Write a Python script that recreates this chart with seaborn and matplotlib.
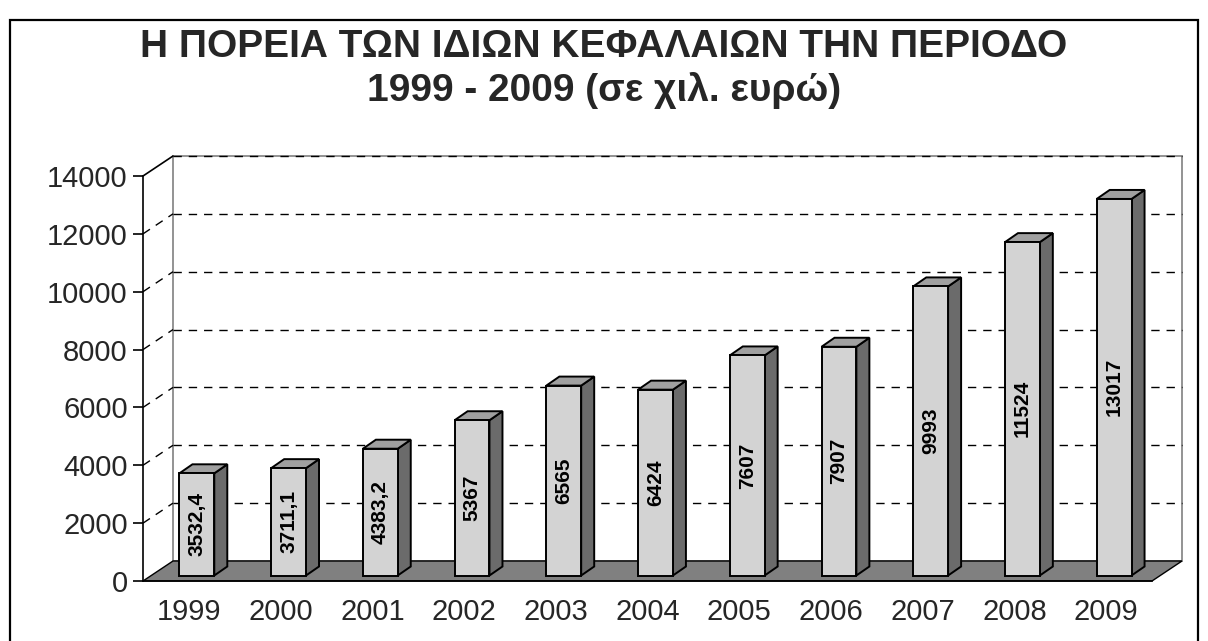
import matplotlib
matplotlib.use("Agg")
import matplotlib.pyplot as plt
import matplotlib.transforms as mtransforms
from matplotlib.patches import Polygon, Rectangle
from matplotlib.lines import Line2D
import seaborn as sns
import pandas as pd

# ---------------- data ----------------
years = ["1999", "2000", "2001", "2002", "2003", "2004", "2005", "2006", "2007", "2008", "2009"]
values = [3532.4, 3711.1, 4383.2, 5367, 6565, 6424, 7607, 7907, 9993, 11524, 13017]
value_labels = ["3532,4", "3711,1", "4383,2", "5367", "6565", "6424", "7607", "7907", "9993", "11524", "13017"]
y_ticks = [0, 2000, 4000, 6000, 8000, 10000, 12000, 14000]
title = "Η ΠΟΡΕΙΑ ΤΩΝ ΙΔΙΩΝ ΚΕΦΑΛΑΙΩΝ ΤΗΝ ΠΕΡΙΟΔΟ\n1999 - 2009 (σε χιλ. ευρώ)"

df = pd.DataFrame({"year": years, "value": values})

# ---------------- style ----------------
sns.set_style("white")
plt.rcParams["font.family"] = ["Liberation Sans", "DejaVu Sans"]

W, H = 1208, 641
DPI = 100
fig = plt.figure(figsize=(W / DPI, H / DPI), dpi=DPI)
fig.patch.set_facecolor("white")

# front plane of the pseudo-3D plot (pixels)
left_px, right_px, bottom_px, top_px = 143, 1152, 581, 176
ax = fig.add_axes([left_px / W, (H - bottom_px) / H,
                   (right_px - left_px) / W, (bottom_px - top_px) / H])
ax.set_facecolor("none")

# depth offsets in pixels
WALL_DX, WALL_DY = 30, 20        # back wall offset
BAR_FX, BAR_FY = 8, 5.5          # bar front-face offset
BAR_DX, BAR_DY = 13, 9           # bar depth

sns.barplot(data=df, x="year", y="value", color="#D3D3D3", saturation=1,
            width=0.38, edgecolor="black", linewidth=1.4, ax=ax, zorder=3)

ax.set_xlim(-0.5, len(years) - 0.5)
ax.set_ylim(0, 14000)
ax.set_xlabel("")
ax.set_ylabel("")

ident = mtransforms.IdentityTransform()

def disp(x, y):
    return ax.transData.transform((x, y))

x0d, y0d = disp(-0.5, 0)
x1d, _ = disp(len(years) - 0.5, 0)
_, ytop = disp(-0.5, 14000)

# back wall
ax.add_patch(Polygon([(x0d + WALL_DX, y0d + WALL_DY), (x1d + WALL_DX, y0d + WALL_DY),
                      (x1d + WALL_DX, ytop + WALL_DY), (x0d + WALL_DX, ytop + WALL_DY)],
                     closed=True, facecolor="white", edgecolor="#808080", lw=1.2,
                     transform=ident, zorder=0.2, clip_on=False))

# gridlines on back wall + left wall
for t in y_ticks[1:]:
    _, yt = disp(-0.5, t)
    ax.add_line(Line2D([x0d + WALL_DX, x1d + WALL_DX], [yt + WALL_DY, yt + WALL_DY],
                       color="black", lw=1.0, dashes=(6, 5), transform=ident, zorder=0.3,
                       clip_on=False))
    if t < 14000:
        ax.add_line(Line2D([x0d, x0d + WALL_DX], [yt, yt + WALL_DY],
                           color="black", lw=1.0, dashes=(6, 5), transform=ident, zorder=0.3,
                           clip_on=False))
    else:
        ax.add_line(Line2D([x0d, x0d + WALL_DX], [yt, yt + WALL_DY],
                           color="black", lw=1.2, transform=ident, zorder=0.3, clip_on=False))

# floor
ax.add_patch(Polygon([(x0d, y0d), (x1d, y0d), (x1d + WALL_DX, y0d + WALL_DY), (x0d + WALL_DX, y0d + WALL_DY)],
                     closed=True, facecolor="#808080", edgecolor="black", lw=1.0,
                     transform=ident, zorder=0.4, clip_on=False))

# bars: shift front faces and add side / top faces
front_tr = mtransforms.offset_copy(ax.transData, fig=fig, x=BAR_FX, y=BAR_FY, units="dots")
bars = [p for p in ax.patches if p.get_zorder() == 3]
for i, bar in enumerate(bars):
    bx, bw, bh = bar.get_x(), bar.get_width(), bar.get_height()
    bar.set_transform(front_tr)
    bar.set_clip_on(False)
    (ax0, ay0) = disp(bx, 0)
    (ax1, ay1) = disp(bx + bw, bh)
    ax0 += BAR_FX; ax1 += BAR_FX; ay0 += BAR_FY; ay1 += BAR_FY
    ax.add_patch(Polygon([(ax1, ay0), (ax1 + BAR_DX, ay0 + BAR_DY), (ax1 + BAR_DX, ay1 + BAR_DY), (ax1, ay1)],
                         closed=True, facecolor="#6B6B6B", edgecolor="black", lw=1.4,
                         transform=ident, zorder=2, clip_on=False))
    ax.add_patch(Polygon([(ax0, ay1), (ax1, ay1), (ax1 + BAR_DX, ay1 + BAR_DY), (ax0 + BAR_DX, ay1 + BAR_DY)],
                         closed=True, facecolor="#A0A0A0", edgecolor="black", lw=1.4,
                         transform=ident, zorder=2, clip_on=False))
    ax.text(bx + bw / 2, bh / 2, value_labels[i], transform=front_tr, rotation=90,
            ha="center", va="center", fontsize=15, fontweight="bold", color="black", zorder=5)

# axes, ticks
for s in ["top", "right"]:
    ax.spines[s].set_visible(False)
for s in ["left", "bottom"]:
    ax.spines[s].set_color("black")
    ax.spines[s].set_linewidth(1.2)
    ax.spines[s].set_zorder(6)

ax.set_yticks(y_ticks)
ax.set_yticklabels([str(t) for t in y_ticks])
ax.set_xticks(range(len(years)))
ax.set_xticklabels(years)
ax.set_xticks([i - 0.5 for i in range(len(years) + 1)], minor=True)
ax.tick_params(axis="x", which="major", length=0, pad=12, labelsize=21)
ax.tick_params(axis="x", which="minor", length=7, width=1.2, color="black", direction="out")
ax.tick_params(axis="y", which="major", length=7, width=1.2, color="black", direction="out",
               pad=4, labelsize=21, left=True)

# title
fig.text(604 / W, (H - 69) / H, title, ha="center", va="center", fontsize=28,
         fontweight="bold", linespacing=1.22)

# outer frame
fig.add_artist(Rectangle((10, -10), 1188, H - 10, fill=False, edgecolor="black",
                         lw=1.6, transform=ident, zorder=10, clip_on=False))

fig.savefig("out.png", dpi=DPI)
